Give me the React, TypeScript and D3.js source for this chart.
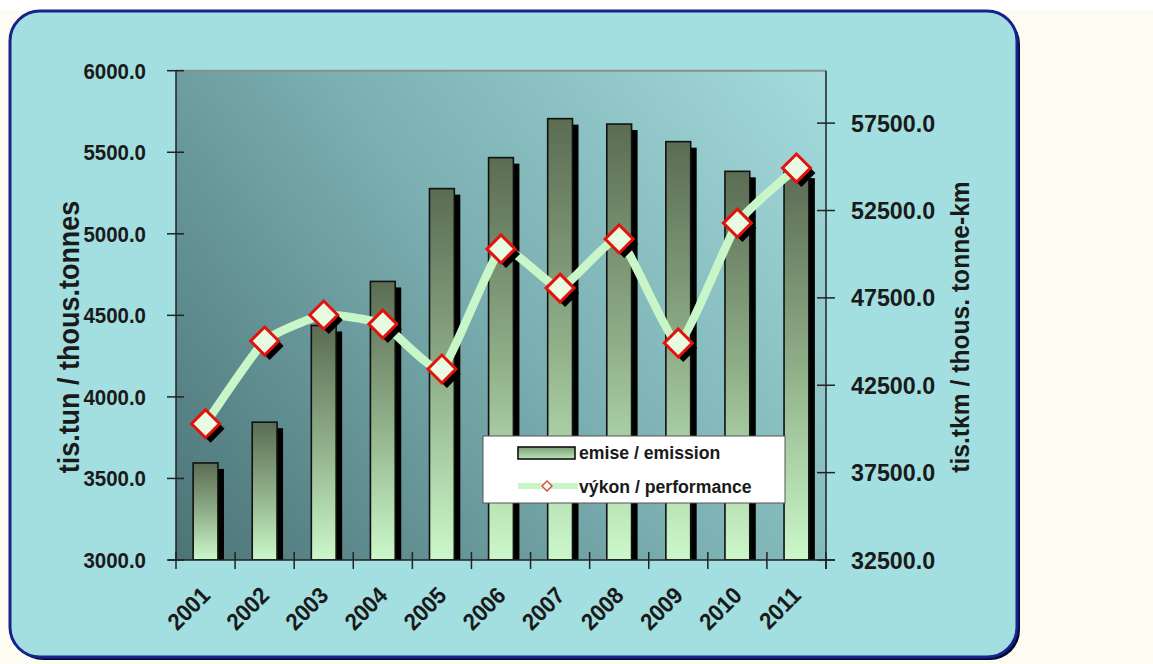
import React from "react";
import * as d3 from "d3";

const years = ["2001","2002","2003","2004","2005","2006","2007","2008","2009","2010","2011"];
const emission = [3595, 3845, 4438, 4708, 5277, 5467, 5706, 5673, 5565, 5383, 5378];
const performance = [40300, 45030, 46520, 46000, 43430, 50300, 48060, 50870, 44920, 51780, 54930];
const leftTicks = [3000, 3500, 4000, 4500, 5000, 5500, 6000];
const rightTicks = [32500, 37500, 42500, 47500, 52500, 57500];
const leftDomain = [3000, 6000];
const rightDomain = [32500, 60500];
const seriesNames = ["emise / emission", "výkon / performance"];
const leftTitle = "tis.tun / thous.tonnes";
const rightTitle = "tis.tkm / thous. tonne-km";

const W = 1153, H = 664;
const PL = 176, PR = 826, PT = 70.7, PB = 560;
const FONT = "'Liberation Sans', Arial, sans-serif";
const SX = 0.93;

export default function App() {
  const x = d3.scaleBand<string>().domain(years).range([PL, PR]).paddingInner(0).paddingOuter(0);
  const yL = d3.scaleLinear().domain(leftDomain).range([PB, PT]);
  const yR = d3.scaleLinear().domain(rightDomain).range([PB, PT]);
  const bw = x.bandwidth();
  const barW = bw * 0.42;
  const cx = (d: string) => (x(d) as number) + bw / 2;

  const linePath = d3.line<number>()
    .x((_, i) => cx(years[i]))
    .y((v) => yR(v))
    .curve(d3.curveCardinal.tension(0.55))(performance) || "";

  const diamond = (px: number, py: number, r: number) =>
    `M${px},${py - r}L${px + r},${py}L${px},${py + r}L${px - r},${py}Z`;

  const boundaries = d3.range(years.length + 1).map((i) => PL + i * bw);

  return (
    <svg width={W} height={H} style={{ position: "absolute", left: 0, top: 0 }} fontFamily={FONT}>
      <defs>
        <linearGradient id="plotBg" gradientUnits="userSpaceOnUse" x1={PL} y1={PB} x2={PR} y2={PT}>
          <stop offset="0" stopColor="#4c7477" />
          <stop offset="0.5" stopColor="#7aaeb0" />
          <stop offset="1" stopColor="#a4dbdc" />
        </linearGradient>
        <linearGradient id="barGrad" x1="0" y1="0" x2="0" y2="1">
          <stop offset="0" stopColor="#5b6c53" />
          <stop offset="0.5" stopColor="#8fae88" />
          <stop offset="1" stopColor="#cbf8ca" />
        </linearGradient>
        <linearGradient id="legGrad" x1="0" y1="0" x2="0" y2="1">
          <stop offset="0" stopColor="#7f9c78" />
          <stop offset="1" stopColor="#b8e6b5" />
        </linearGradient>
        <clipPath id="plotClip">
          <rect x={PL} y={PT - 30} width={PR - PL} height={PB - PT + 30} />
        </clipPath>
      </defs>

      {/* page background */}
      <rect x={0} y={0} width={W} height={H} fill="#fcfcf2" />
      <rect x={0} y={0} width={W} height={10} fill="#ffffff" />

      {/* panel */}
      <rect x={13} y={14} width={1007} height={646} rx={30} fill="#050a30" />
      <rect x={10} y={11} width={1007} height={646} rx={30} fill="#a3dfe0" stroke="#16238c" strokeWidth={3} />

      {/* plot area */}
      <rect x={PL} y={PT} width={PR - PL} height={PB - PT} fill="url(#plotBg)" />
      <line x1={PL} x2={PR} y1={PT} y2={PT} stroke="#8a8f90" strokeWidth={2} />

      {/* bars */}
      <g clipPath="url(#plotClip)">
        {years.map((yr, i) => (
          <rect key={"s" + yr} x={cx(yr) - barW / 2 + 6} y={yL(emission[i]) + 6}
            width={barW} height={PB - yL(emission[i])} fill="#000" />
        ))}
        {years.map((yr, i) => (
          <rect key={"b" + yr} x={cx(yr) - barW / 2} y={yL(emission[i])}
            width={barW} height={PB - yL(emission[i])} fill="url(#barGrad)" stroke="#111" strokeWidth={1.6} />
        ))}
      </g>

      {/* axes */}
      <line x1={PL} x2={PL} y1={PT} y2={PB} stroke="#222" strokeWidth={1.5} />
      <line x1={PR} x2={PR} y1={PT} y2={PB + 9} stroke="#222" strokeWidth={1.5} />
      <line x1={PL - 8} x2={PR + 9} y1={PB} y2={PB} stroke="#222" strokeWidth={1.5} />
      {leftTicks.map((t) => (
        <g key={"lt" + t}>
          <line x1={PL - 9} x2={PL + 8} y1={yL(t)} y2={yL(t)} stroke="#222" strokeWidth={1.5} />
          <text transform={`translate(146,${yL(t) + 8}) scale(${SX},1)`} textAnchor="end" fontSize={22} fontWeight="bold" fill="#1a1a1a">
            {t.toFixed(1)}
          </text>
        </g>
      ))}
      {rightTicks.map((t) => (
        <g key={"rt" + t}>
          <line x1={PR - 9} x2={PR + 9} y1={yR(t)} y2={yR(t)} stroke="#222" strokeWidth={1.5} />
          <text transform={`translate(851,${yR(t) + 8.5}) scale(0.97,1)`} textAnchor="start" fontSize={24} fontWeight="bold" fill="#1a1a1a">
            {t.toFixed(1)}
          </text>
        </g>
      ))}
      {boundaries.map((bx, i) => (
        <line key={"xt" + i} x1={bx} x2={bx} y1={PB - 8} y2={PB + 9} stroke="#222" strokeWidth={1.5} />
      ))}
      {years.map((yr) => (
        <text key={"xl" + yr} transform={`translate(${cx(yr) + 6},${597}) rotate(-45) scale(${SX},1)`} textAnchor="end"
          fontSize={23.5} fontWeight="bold" fill="#1a1a1a">{yr}</text>
      ))}

      {/* axis titles */}
      <text transform={`translate(79,337) rotate(-90) scale(${SX},1)`} textAnchor="middle" fontSize={29} fontWeight="bold" fill="#1a1a1a">
        {leftTitle}
      </text>
      <text transform={`translate(969,327) rotate(-90) scale(${SX},1)`} textAnchor="middle" fontSize={26.5} fontWeight="bold" fill="#1a1a1a">
        {rightTitle}
      </text>

      {/* line series */}
      <path d={linePath} fill="none" stroke="#c8f6c8" strokeWidth={8.5} strokeLinecap="round" strokeLinejoin="round" />
      {performance.map((v, i) => (
        <path key={"ms" + i} d={diamond(cx(years[i]) + 5, yR(v) + 5, 14)} fill="#000" />
      ))}
      {performance.map((v, i) => (
        <path key={"m" + i} d={diamond(cx(years[i]), yR(v), 14)} fill="#e8fbe2" stroke="#e3130c" strokeWidth={3} />
      ))}

      {/* legend */}
      <rect x={483} y={436} width={302} height={67} fill="#ffffff" stroke="#555" strokeWidth={1} />
      <rect x={518} y={447} width={57} height={12} fill="url(#legGrad)" stroke="#111" strokeWidth={1.6} />
      <text transform={`translate(579,459) scale(${SX},1)`} fontSize={19} fontWeight="bold" fill="#1a1a1a">{seriesNames[0]}</text>
      <line x1={518} x2={578} y1={486} y2={486} stroke="#c8f6c8" strokeWidth={6} />
      <path d={diamond(547, 486, 5)} fill="#ffffff" stroke="#e0412c" strokeWidth={1.3} />
      <text transform={`translate(579,493) scale(${SX},1)`} fontSize={19} fontWeight="bold" fill="#1a1a1a">{seriesNames[1]}</text>
    </svg>
  );
}
